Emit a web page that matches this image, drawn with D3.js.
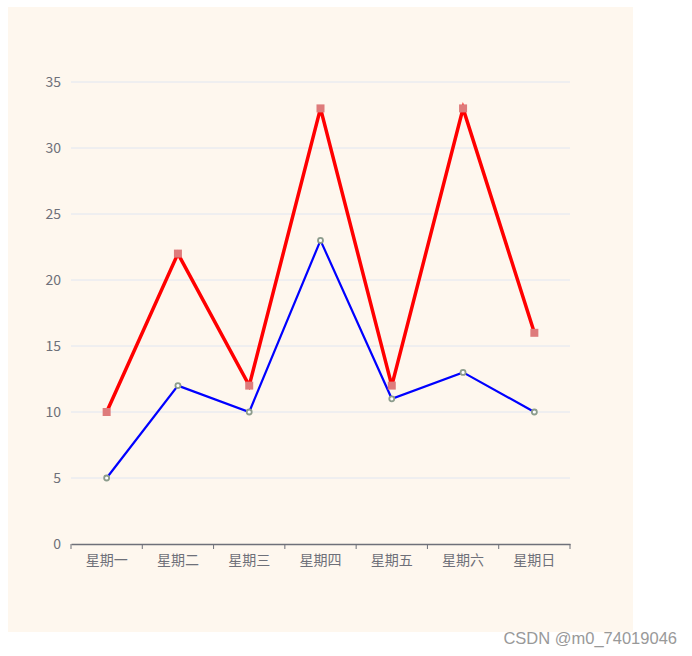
<!DOCTYPE html>
<html><head><meta charset="utf-8">
<script src="https://cdn.jsdelivr.net/npm/d3@7"></script>
<style>html,body{margin:0;padding:0;background:#fff;}svg{display:block;}</style>
</head><body>
<svg id="c" width="692" height="656"></svg>
<script>
const categories = ["星期一","星期二","星期三","星期四","星期五","星期六","星期日"];
const blueValues = [5, 12, 10, 23, 11, 13, 10];
const redValues = [10, 22, 12, 33, 12, 33, 16];
const yTicks = [0, 5, 10, 15, 20, 25, 30, 35];
const watermark = "CSDN @m0_74019046";

const svg = d3.select("#c");
const font = "'Microsoft YaHei','Noto Sans CJK SC',sans-serif";
svg.append("rect").attr("x",8).attr("y",7).attr("width",625).attr("height",625).attr("fill","#fef7ee");

const x = d3.scaleBand().domain(categories).range([71,570]);
const y = d3.scaleLinear().domain([0,35]).range([544,82]);

const g = svg.append("g");
g.selectAll("line.grid").data(yTicks.filter(d=>d>0)).join("line")
  .attr("x1",71).attr("x2",570).attr("y1",d=>y(d)).attr("y2",d=>y(d))
  .attr("stroke","#e0e6f1").attr("stroke-width",1);

const ya = g.append("g").attr("transform","translate(71,0)")
  .call(d3.axisLeft(y).tickValues(yTicks).tickSize(0).tickPadding(10));
ya.select(".domain").remove();
ya.selectAll("text").attr("fill","#6e7079").style("font-size","14px").style("font-family",font);

const xa = g.append("g").attr("transform","translate(0,544)")
  .call(d3.axisBottom(x).tickSize(0).tickPadding(11));
xa.select(".domain").attr("stroke","#6e7079").attr("stroke-width",1.3);
xa.selectAll("text").attr("fill","#6e7079").style("font-size","14px").style("font-family",font);
const bounds = categories.map(c=>x(c)).concat([x(categories[6])+x.bandwidth()]);
xa.selectAll("line.bt").data(bounds).join("line")
  .attr("x1",d=>d).attr("x2",d=>d).attr("y1",0).attr("y2",5).attr("stroke","#6e7079");

const cx = c => x(c)+x.bandwidth()/2;
const line = d3.line().x((d,i)=>cx(categories[i])).y(d=>y(d));

g.append("path").datum(blueValues).attr("d",line).attr("fill","none").attr("stroke","#0000ff").attr("stroke-width",2.2);
g.append("path").datum(redValues).attr("d",line).attr("fill","none").attr("stroke","#ff0000").attr("stroke-width",3.5);

g.selectAll("circle.b").data(blueValues).join("circle")
  .attr("cx",(d,i)=>cx(categories[i])).attr("cy",d=>y(d)).attr("r",2.5)
  .attr("fill","#fff").attr("stroke","#8c9c8c").attr("stroke-width",1.8);
g.selectAll("rect.r").data(redValues).join("rect")
  .attr("x",(d,i)=>cx(categories[i])-4).attr("y",d=>y(d)-4).attr("width",8).attr("height",8)
  .attr("fill","#de7b7b");

svg.append("text").attr("x",677).attr("y",644).attr("text-anchor","end")
  .attr("fill","#999").style("font-size","16.5px").style("font-family","Arial, 'Liberation Sans', sans-serif")
  .text(watermark);
</script>
</body></html>
